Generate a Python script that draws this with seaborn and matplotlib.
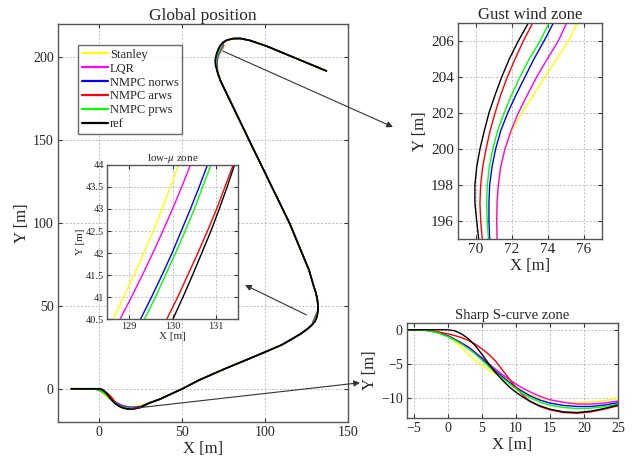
import numpy as np
import pandas as pd
import matplotlib
matplotlib.use("Agg")
import matplotlib.pyplot as plt
import seaborn as sns

# ---------------- data ----------------
SERIES = ["Stanley", "LQR", "NMPC norws", "NMPC arws", "NMPC prws", "ref"]
COLORS = ["#ffff00", "#ff00ff", "#0000ff", "#ff0000", "#00ff00", "#000000"]

# Sharp S-curve zone (x shared, y per series)
S_X = [-6, -5, -3, -1.5, 0, 1, 2, 3, 4, 5, 6, 7, 8, 9, 10, 11, 12, 13.5, 15, 17, 19, 21, 23, 25]
S_Y_STANLEY = [0, 0, -0.1, -0.35, -1.0, -1.7, -2.6, -3.6, -4.5, -5.2, -5.9, -6.5, -7.2, -7.9, -8.5, -9.0, -9.5, -10.0, -10.4, -10.65, -10.75, -10.65, -10.45, -10.1]
S_Y_LQR = [0, 0, -0.1, -0.4, -0.9, -1.4, -1.9, -2.5, -3.3, -4.1, -5.0, -5.8, -6.6, -7.3, -8.0, -8.6, -9.1, -9.8, -10.3, -10.7, -10.95, -10.95, -10.8, -10.5]
S_Y_NORWS = [0, 0, -0.1, -0.4, -0.9, -1.4, -2.0, -2.6, -3.4, -4.3, -5.2, -6.1, -6.9, -7.7, -8.5, -9.1, -9.7, -10.35, -10.8, -11.15, -11.3, -11.3, -11.1, -10.75]
S_Y_ARWS = [0, 0, -0.1, -0.3, -0.6, -0.85, -1.15, -1.55, -2.1, -2.8, -3.6, -4.6, -5.9, -7.2, -8.5, -9.6, -10.5, -11.3, -11.8, -12.2, -12.3, -12.1, -11.7, -11.2]
S_Y_PRWS = [0, 0, -0.1, -0.45, -1.0, -1.5, -2.1, -2.75, -3.55, -4.45, -5.4, -6.3, -7.1, -7.9, -8.7, -9.4, -9.95, -10.65, -11.1, -11.45, -11.6, -11.55, -11.35, -10.95]
S_Y_REF = [0, 0, 0, 0, 0, -0.15, -0.6, -1.3, -2.3, -3.6, -5.0, -6.3, -7.4, -8.4, -9.2, -9.9, -10.5, -11.2, -11.7, -12.1, -12.2, -12.0, -11.6, -11.1]

# low-mu zone (y shared, x per series)
L_Y = [40.5, 41.0, 41.5, 42.0, 42.5, 43.0, 43.5, 44.0]
L_X_STANLEY = [128.64, 128.88, 129.12, 129.34, 129.56, 129.76, 129.95, 130.14]
L_X_LQR = [128.80, 129.06, 129.31, 129.55, 129.78, 130.00, 130.21, 130.41]
L_X_NORWS = [129.27, 129.52, 129.76, 129.99, 130.20, 130.41, 130.61, 130.80]
L_X_ARWS = [129.87, 130.12, 130.35, 130.58, 130.80, 131.01, 131.20, 131.39]
L_X_PRWS = [129.36, 129.61, 129.84, 130.07, 130.29, 130.50, 130.69, 130.88]
L_X_REF = [130.01, 130.24, 130.46, 130.67, 130.88, 131.07, 131.25, 131.42]

# Gust wind zone (y shared, x per series)
G_Y = [195, 196, 197, 198, 199, 200, 201, 202, 203, 204, 205, 206, 207]
G_X_STANLEY = [71.19, 71.17, 71.19, 71.26, 71.39, 71.61, 71.98, 72.54, 73.19, 73.83, 74.48, 75.13, 75.63]
G_X_LQR = [71.17, 71.15, 71.17, 71.24, 71.37, 71.61, 71.94, 72.35, 72.85, 73.37, 73.96, 74.57, 75.04]
G_X_NORWS = [70.76, 70.72, 70.72, 70.76, 70.89, 71.09, 71.37, 71.76, 72.22, 72.72, 73.22, 73.78, 74.30]
G_X_ARWS = [70.35, 70.26, 70.22, 70.26, 70.37, 70.56, 70.78, 71.06, 71.37, 71.74, 72.17, 72.63, 73.15]
G_X_PRWS = [70.69, 70.63, 70.59, 70.63, 70.74, 70.93, 71.20, 71.56, 71.98, 72.44, 72.96, 73.56, 74.06]
G_X_REF = [70.15, 70.04, 69.94, 69.94, 70.04, 70.22, 70.46, 70.72, 71.06, 71.43, 71.85, 72.35, 72.91]

# common parts of the global path
START_X = [-17]
START_Y = [0]
MID1_X = [30, 36.6, 43, 50, 60, 75, 90, 100, 110, 117, 122, 126, 128.5]
MID1_Y = [-8.6, -6.2, -3.2, 0, 5.2, 11.8, 18.0, 22.2, 26.5, 30.5, 33.5, 36.5, 38.8]
MID2_X = [131.85, 131.9, 131.5, 130.6, 129.3, 126.5, 114.9, 90.8, 73.1, 71.4]
MID2_Y = [47, 50, 54, 58, 62, 71.6, 99.6, 149, 185.7, 190.5]
END_X = [74.5, 77, 80.7, 85, 90.8, 100.8, 137]
END_Y = [208.8, 210.3, 211.2, 211.3, 210.1, 206.7, 191.7]

S_Y = [S_Y_STANLEY, S_Y_LQR, S_Y_NORWS, S_Y_ARWS, S_Y_PRWS, S_Y_REF]
L_X = [L_X_STANLEY, L_X_LQR, L_X_NORWS, L_X_ARWS, L_X_PRWS, L_X_REF]
G_X = [G_X_STANLEY, G_X_LQR, G_X_NORWS, G_X_ARWS, G_X_PRWS, G_X_REF]

# ---------------- style ----------------
sns.set_theme(style="ticks")
plt.rcParams["font.family"] = ["Liberation Serif", "DejaVu Serif"]
plt.rcParams["mathtext.fontset"] = "stix"
TXT = "#262626"
SPINE = "#555555"
GRID = dict(color="#b8b8b8", linestyle=(0, (2.5, 2)), linewidth=0.6)


def style_ax(ax, tick_fs, lab_fs, title_fs, title, labelpad_y=None):
    ax.grid(True, **GRID)
    ax.set_axisbelow(True)
    ax.set_facecolor("white")
    for s in ax.spines.values():
        s.set_color(SPINE)
        s.set_linewidth(1.0)
        s.set_visible(True)
    ax.tick_params(direction="in", top=True, right=True, length=3, width=0.8,
                   color="#333333", labelsize=tick_fs, labelcolor=TXT, pad=3)
    ax.set_xlabel("X [m]", fontsize=lab_fs, color=TXT, labelpad=1)
    ax.set_ylabel("Y [m]", fontsize=lab_fs, color=TXT, labelpad=labelpad_y if labelpad_y is not None else 2)
    ax.set_title(title, fontsize=title_fs, color=TXT, pad=3)


fig = plt.figure(figsize=(6.4, 4.61), dpi=100)

ax_main = fig.add_axes([0.0906, 0.0846, 0.4531, 0.8633])
ax_in = fig.add_axes([0.1672, 0.3080, 0.2047, 0.3341])
ax_g = fig.add_axes([0.7156, 0.4816, 0.2250, 0.4685])
ax_s = fig.add_axes([0.6359, 0.0933, 0.3297, 0.2061])

# ---------------- main global path ----------------
for i, (name, col) in enumerate(zip(SERIES, COLORS)):
    px = START_X + S_X + MID1_X + L_X[i] + MID2_X + G_X[i] + END_X
    py = START_Y + S_Y[i] + MID1_Y + L_Y + MID2_Y + G_Y + END_Y
    df = pd.DataFrame({"x": px, "y": py})
    sns.lineplot(data=df, x="x", y="y", sort=False, estimator=None, ax=ax_main,
                 color=col, lw=1.3 if name == "ref" else 1.0, label=name)

ax_main.set_xlim(-25, 150)
ax_main.set_ylim(-20, 220)
ax_main.set_xticks([0, 50, 100, 150])
ax_main.set_yticks([0, 50, 100, 150, 200])
style_ax(ax_main, 10, 12, 12.5, "Global position", labelpad_y=2)
leg = ax_main.legend(loc="upper left", bbox_to_anchor=(0.069, 0.947), borderaxespad=0,
                     fontsize=9, labelspacing=0.15, handlelength=2.1, handletextpad=0.15,
                     borderpad=0.3, frameon=True, fancybox=False)
leg.get_frame().set_edgecolor("#444444")
leg.get_frame().set_linewidth(1.0)
for line in leg.get_lines():
    line.set_linewidth(1.6)
for t in leg.get_texts():
    t.set_color(TXT)

# ---------------- low-mu inset ----------------
for i, col in enumerate(COLORS):
    sns.lineplot(x=L_X[i], y=L_Y, sort=False, estimator=None, ax=ax_in, color=col, lw=1.0)
ax_in.set_xlim(128.5, 131.5)
ax_in.set_ylim(40.5, 44)
ax_in.set_xticks([129, 130, 131])
ax_in.set_yticks([40.5, 41, 41.5, 42, 42.5, 43, 43.5, 44])
ax_in.set_yticklabels(["40.5", "41", "41.5", "42", "42.5", "43", "43.5", "44"])
style_ax(ax_in, 7.5, 8, 8, "low-$\\mu$ zone", labelpad_y=1)
ax_in.tick_params(pad=2)
ax_in.set_zorder(3)

# ---------------- gust wind zone ----------------
for i, col in enumerate(COLORS):
    sns.lineplot(x=G_X[i], y=G_Y, sort=False, estimator=None, ax=ax_g, color=col, lw=1.0)
ax_g.set_xlim(69, 77)
ax_g.set_ylim(195, 207)
ax_g.set_xticks([70, 72, 74, 76])
ax_g.set_yticks([196, 198, 200, 202, 204, 206])
style_ax(ax_g, 11, 12, 12, "Gust wind zone", labelpad_y=2)

# ---------------- sharp S-curve zone ----------------
for i, col in enumerate(COLORS):
    sns.lineplot(x=S_X, y=S_Y[i], sort=False, estimator=None, ax=ax_s, color=col, lw=1.0)
ax_s.set_xlim(-6, 25)
ax_s.set_ylim(-13, 1)
ax_s.set_xticks([-5, 0, 5, 10, 15, 20, 25])
ax_s.set_yticks([-10, -5, 0])
style_ax(ax_s, 10, 12, 10.5, "Sharp S-curve zone", labelpad_y=2)

for a in (ax_in, ax_g, ax_s):
    lg = a.get_legend()
    if lg is not None:
        lg.remove()

# ---------------- zoom arrows ----------------
arrow_kw = dict(arrowstyle="-|>", color="#333333", lw=0.8, mutation_scale=9,
                shrinkA=0, shrinkB=0)
ax_main.annotate("", xy=(0.614, 0.7245), xycoords="figure fraction",
                 xytext=(74.5, 203.7), textcoords="data",
                 arrowprops=arrow_kw, annotation_clip=False)
ax_main.annotate("", xy=(0.3828, 0.3818), xycoords="figure fraction",
                 xytext=(124.9, 44.6), textcoords="data",
                 arrowprops=arrow_kw, annotation_clip=False)
ax_main.annotate("", xy=(0.5625, 0.1698), xycoords="figure fraction",
                 xytext=(18.5, -12.0), textcoords="data",
                 arrowprops=arrow_kw, annotation_clip=False)

fig.savefig("out.png", dpi=100)
